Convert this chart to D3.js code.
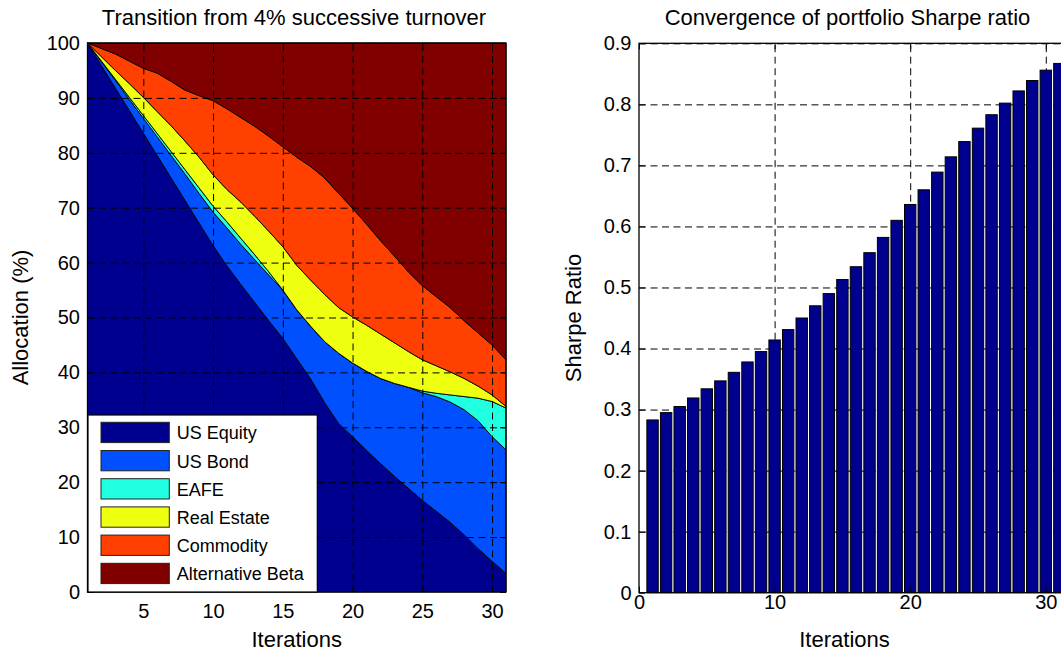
<!DOCTYPE html>
<html>
<head>
<meta charset="utf-8">
<script src="https://cdn.jsdelivr.net/npm/d3@7"></script>
<style>
  body { margin: 0; background: #fff; }
  svg text { font-family: "Liberation Sans", Arial, Helvetica, sans-serif; fill: #000; }
</style>
</head>
<body>
<svg id="chart" width="1061" height="654"></svg>
<script>
// data
var iterations = [1, 2, 3, 4, 5, 6, 7, 8, 9, 10, 11, 12, 13, 14, 15, 16, 17, 18, 19, 20, 21, 22, 23, 24, 25, 26, 27, 28, 29, 30, 31];

var assetNames = ["US Equity", "US Bond", "EAFE", "Real Estate", "Commodity", "Alternative Beta"];
var assetColors = ["#00008f", "#0050ff", "#20ffdf", "#efff10", "#ff4000", "#800000"];

var usEquity = [100, 95.9, 91.8, 87.7, 83.6, 79.5, 75.4, 71.3, 67.2, 63.1, 59.4, 56.0, 52.7, 49.4, 46.2, 42.5, 38.8, 34.5, 30.7, 28.3, 25.8, 23.4, 21.1, 18.9, 16.7, 14.7, 12.7, 10.4, 7.9, 5.6, 3.4];
var usBond = [0, 0.7, 1.4, 2.0, 2.7, 3.4, 4.1, 4.8, 5.4, 6.1, 6.9, 7.3, 7.8, 8.3, 8.8, 8.9, 9.6, 11.1, 12.8, 13.4, 14.4, 15.5, 16.9, 18.4, 19.6, 20.9, 21.9, 22.8, 23.3, 22.7, 22.5];
var eafe = [0, 0.1, 0.2, 0.4, 0.5, 0.6, 0.7, 0.8, 1.0, 1.1, 1.1, 1.1, 0.9, 0.6, 0, 0, 0, 0, 0, 0, 0, 0, 0, 0, 0.3, 0.6, 1.3, 2.4, 4.1, 6.4, 7.6];
var realEstate = [0, 0.8, 1.6, 2.5, 3.3, 4.0, 4.7, 5.2, 5.6, 5.7, 5.9, 6.6, 7.0, 7.4, 7.9, 8.1, 8.4, 8.6, 8.3, 8.4, 8.4, 8.1, 7.4, 6.5, 5.7, 5.0, 4.2, 3.3, 2.2, 1.2, 0.3];
var commodity = [0, 1.5, 3.0, 4.1, 5.3, 7.0, 8.1, 9.3, 11.2, 13.5, 14.7, 15.4, 16.4, 17.3, 18.2, 19.7, 20.7, 21.2, 20.8, 19.8, 18.4, 17.0, 15.8, 14.5, 13.5, 12.6, 11.7, 10.5, 9.7, 9.1, 8.5];
var altBeta = [0, 1.0, 2.0, 3.3, 4.6, 5.5, 7.0, 8.6, 9.6, 10.5, 12.0, 13.6, 15.2, 17.0, 18.9, 20.8, 22.5, 24.6, 27.4, 30.1, 33.0, 36.0, 38.8, 41.7, 44.2, 46.2, 48.2, 50.6, 52.8, 55.0, 57.7];

var sharpe = [0.283, 0.295, 0.305, 0.319, 0.334, 0.347, 0.361, 0.378, 0.395, 0.414, 0.431, 0.450, 0.470, 0.490, 0.513, 0.534, 0.557, 0.582, 0.610, 0.636, 0.660, 0.689, 0.714, 0.739, 0.761, 0.783, 0.802, 0.822, 0.839, 0.856, 0.867];

var leftXTicks = [5, 10, 15, 20, 25, 30];
var leftYTicks = [0, 10, 20, 30, 40, 50, 60, 70, 80, 90, 100];
var rightXTicks = [0, 10, 20, 30];
var rightYTicks = [0, 0.1, 0.2, 0.3, 0.4, 0.5, 0.6, 0.7, 0.8, 0.9];

var svg = d3.select("#chart");
svg.append("rect").attr("width", 1061).attr("height", 654).attr("fill", "#fff");

//Left chart: stacked allocation areas
var L = { left: 87.5, right: 506, top: 43, bottom: 592 };
var xL = d3.scaleLinear().domain([1, 31]).range([L.left, L.right]);
var yL = d3.scaleLinear().domain([0, 100]).range([L.bottom, L.top]);

var series = [usEquity, usBond, eafe, realEstate, commodity, altBeta];
var rows = iterations.map(function (it, i) {
  var row = { it: it };
  assetNames.forEach(function (name, k) { row[name] = series[k][i]; });
  return row;
});
var stacked = d3.stack().keys(assetNames)(rows);

var area = d3.area()
  .x(function (d) { return xL(d.data.it); })
  .y0(function (d) { return yL(d[0]); })
  .y1(function (d) { return yL(Math.min(d[1], 100)); });

var gL = svg.append("g");
gL.selectAll("path.layer")
  .data(stacked)
  .enter()
  .append("path")
  .attr("class", "layer")
  .attr("d", area)
  .attr("fill", function (d, i) { return assetColors[i]; })
  .attr("stroke", "#000")
  .attr("stroke-width", 0.9)
  .attr("stroke-linejoin", "round");

// grid on top of the areas
gL.append("g")
  .attr("transform", "translate(0," + L.bottom + ")")
  .call(d3.axisBottom(xL).tickValues(leftXTicks).tickSize(-(L.bottom - L.top)).tickFormat(""))
  .call(function (g) { g.select(".domain").remove(); })
  .selectAll("line").attr("stroke", "#000").attr("stroke-dasharray", "7,4.5");
gL.append("g")
  .attr("transform", "translate(" + L.left + ",0)")
  .call(d3.axisLeft(yL).tickValues(leftYTicks.slice(1, -1)).tickSize(-(L.right - L.left)).tickFormat(""))
  .call(function (g) { g.select(".domain").remove(); })
  .selectAll("line").attr("stroke", "#000").attr("stroke-dasharray", "7,4.5");

function drawAxes(g, x, y, box, xTicks, yTicks, xPad, yFmt) {
  var bx = g.append("g")
    .attr("transform", "translate(0," + box.bottom + ")")
    .call(d3.axisBottom(x).tickValues(xTicks).tickSizeInner(-6).tickSizeOuter(0).tickPadding(xPad));
  var by = g.append("g")
    .attr("transform", "translate(" + box.left + ",0)")
    .call(d3.axisLeft(y).tickValues(yTicks).tickSizeInner(-6).tickSizeOuter(0).tickPadding(7.5).tickFormat(yFmt));
  var tx = g.append("g")
    .attr("transform", "translate(0," + box.top + ")")
    .call(d3.axisTop(x).tickValues(xTicks).tickSizeInner(-6).tickSizeOuter(0).tickFormat(""));
  var ry = g.append("g")
    .attr("transform", "translate(" + box.right + ",0)")
    .call(d3.axisRight(y).tickValues(yTicks).tickSizeInner(-6).tickSizeOuter(0).tickFormat(""));
  [bx, by, tx, ry].forEach(function (a) {
    a.select(".domain").remove();
    a.selectAll("line").attr("stroke", "#000");
    a.selectAll("text").style("font-size", "20px").attr("fill", "#000");
  });
  g.append("rect")
    .attr("x", box.left).attr("y", box.top)
    .attr("width", box.right - box.left).attr("height", box.bottom - box.top)
    .attr("fill", "none").attr("stroke", "#000").attr("stroke-width", 1.3);
}

drawAxes(gL, xL, yL, L, leftXTicks, leftYTicks, 11.8, d3.format("d"));

// legend (lower left, inside the axes)
var leg = gL.append("g").attr("transform", "translate(88,415)");
leg.append("rect")
  .attr("width", 229.3).attr("height", 177)
  .attr("fill", "#fff").attr("stroke", "#000").attr("stroke-width", 1.2);
var item = leg.selectAll("g.item")
  .data(assetNames)
  .enter()
  .append("g")
  .attr("class", "item")
  .attr("transform", function (d, i) { return "translate(0," + (7.3 + i * 28.2) + ")"; });
item.append("rect")
  .attr("x", 13).attr("width", 68.3).attr("height", 20.3)
  .attr("fill", function (d, i) { return assetColors[i]; })
  .attr("stroke", "#222").attr("stroke-width", 1);
item.append("text")
  .attr("x", 88.7).attr("y", 17)
  .style("font-size", "18px")
  .text(function (d) { return d; });

gL.append("text")
  .attr("x", 294).attr("y", 25)
  .attr("text-anchor", "middle")
  .style("font-size", "22px")
  .text("Transition from 4% successive turnover");
gL.append("text")
  .attr("x", 296.7).attr("y", 647)
  .attr("text-anchor", "middle")
  .style("font-size", "22px")
  .text("Iterations");
gL.append("text")
  .attr("transform", "translate(28,317.5) rotate(-90)")
  .attr("text-anchor", "middle")
  .style("font-size", "22px")
  .text("Allocation (%)");

//Right chart: Sharpe ratio bars
var R = { left: 639, right: 639 + 32 * 13.56, top: 43.3, bottom: 592.7 };
var xR = d3.scaleLinear().domain([0, 32]).range([R.left, R.right]);
var yR = d3.scaleLinear().domain([0, 0.9]).range([R.bottom, R.top]);
var gR = svg.append("g");

// grid behind the bars
gR.append("g")
  .attr("transform", "translate(0," + R.bottom + ")")
  .call(d3.axisBottom(xR).tickValues(rightXTicks.slice(1)).tickSize(-(R.bottom - R.top)).tickFormat(""))
  .call(function (g) { g.select(".domain").remove(); })
  .selectAll("line").attr("stroke", "#000").attr("stroke-dasharray", "7,4.5");
gR.append("g")
  .attr("transform", "translate(" + R.left + ",0)")
  .call(d3.axisLeft(yR).tickValues(rightYTicks.slice(1)).tickSize(-(R.right - R.left)).tickFormat(""))
  .call(function (g) { g.select(".domain").remove(); })
  .selectAll("line").attr("stroke", "#000").attr("stroke-dasharray", "7,4.5");

var bw = (xR(1) - xR(0)) * 0.84;
gR.selectAll("rect.bar")
  .data(sharpe)
  .enter()
  .append("rect")
  .attr("class", "bar")
  .attr("x", function (d, i) { return xR(iterations[i]) - bw / 2; })
  .attr("y", function (d) { return yR(d); })
  .attr("width", bw)
  .attr("height", function (d) { return yR(0) - yR(d); })
  .attr("fill", "#00008f")
  .attr("stroke", "#000")
  .attr("stroke-width", 1);

drawAxes(gR, xR, yR, R, rightXTicks, rightYTicks, 2.4, function (d) { return d === 0 ? "0" : d.toFixed(1); });

gR.append("text")
  .attr("x", 847.5).attr("y", 25)
  .attr("text-anchor", "middle")
  .style("font-size", "22px")
  .text("Convergence of portfolio Sharpe ratio");
gR.append("text")
  .attr("x", 844.5).attr("y", 647)
  .attr("text-anchor", "middle")
  .style("font-size", "22px")
  .text("Iterations");
gR.append("text")
  .attr("transform", "translate(581,318) rotate(-90)")
  .attr("text-anchor", "middle")
  .style("font-size", "22px")
  .text("Sharpe Ratio");
</script>
</body>
</html>
